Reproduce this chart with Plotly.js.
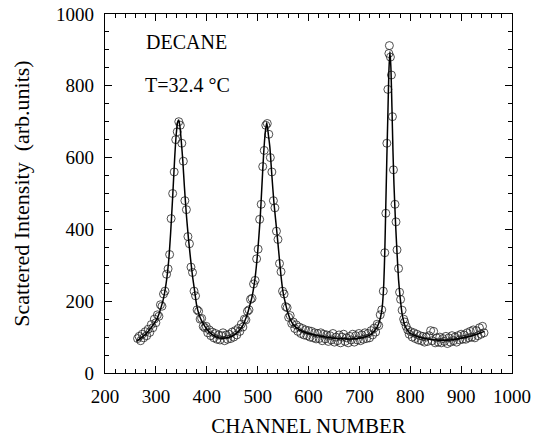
<!DOCTYPE html>
<html>
<head>
<meta charset="utf-8">
<script src="https://cdn.plot.ly/plotly-3.0.1.min.js"></script>
<style>html,body{margin:0;padding:0;background:#fff;}#chart{width:537px;height:439px;}</style>
</head>
<body>
<div id="chart"></div>
<script>
// Measured points (channel, intensity)
const dataX = [
264,267,270,273,276,279,282,285,288,291,
294,297,300,303,306,309,312,315,318,321,
324,327,330,333,336,339,342,345,348,351,
354,357,360,363,366,369,372,375,378,381,
384,387,390,393,396,399,402,405,408,411,
414,417,420,423,426,429,432,435,438,441,
444,447,450,453,456,459,462,465,468,471,
474,477,480,483,486,489,492,495,498,501,
504,507,510,513,516,519,522,525,528,531,
534,537,540,543,546,549,552,555,558,561,
564,567,570,573,576,579,582,585,588,591,
594,597,600,603,606,609,612,615,618,621,
624,627,630,633,636,639,642,645,648,651,
654,657,660,663,666,669,672,675,678,681,
684,687,690,693,696,699,702,705,708,711,
714,717,720,723,726,729,732,735,738,741,
744,747,750,752,754,756,758,759,761,763,
765,767,770,772,774,777,779,781,784,787,
789,792,795,798,801,804,807,810,813,816,
819,822,825,828,831,834,837,840,843,846,
849,852,855,858,861,864,867,870,873,876,
879,882,885,888,891,894,897,900,903,906,
909,912,915,918,921,924,927,930,933,936,
939,942,945];
const dataY = [
96,102,90,108,98,115,104,122,113,135,
126,150,140,162,158,190,186,220,228,275,
290,330,430,500,560,650,672,700,690,640,
590,480,455,380,360,295,280,228,215,176,
172,150,152,130,126,130,112,120,104,114,
98,110,94,106,92,104,112,90,106,94,
108,96,114,100,118,106,124,116,136,128,
150,148,172,176,205,208,248,258,318,345,
428,470,575,620,690,695,665,600,560,480,
460,395,372,305,282,228,220,185,182,155,
160,138,142,124,134,116,128,110,124,106,
120,104,118,100,116,98,112,95,110,96,
112,90,108,95,106,88,104,92,110,86,
100,90,106,84,100,108,88,98,84,102,
92,108,86,104,92,110,90,106,94,112,
96,110,98,118,106,125,114,136,132,162,
176,228,335,445,640,790,890,912,880,830,
714,566,470,421,343,291,225,205,175,150,
142,130,120,108,115,100,112,96,108,92,
104,90,102,86,100,88,104,118,90,116,
84,98,86,100,84,96,88,102,82,98,
86,104,90,100,86,104,92,108,94,106,
94,112,98,116,100,120,98,118,104,126,
108,130,112];

// Fitted curve
const fitX = [262,270,280,290,300,305,310,315,320,325,329,333,337,340,343,345,347,350,353,356,
360,364,368,372,376,380,385,390,395,400,410,420,430,440,450,460,470,480,485,489,
495,500,505,508,512,515,518,521,524,528,532,538,542,546,550,555,560,565,570,580,
590,600,620,640,660,680,700,710,720,728,734,738,742,745,748,750,752,754,756,758,
760,762,764,766,768,771,774,777,780,784,790,795,800,810,820,835,850,870,890,905,
920,935,946];
const fitY = [88,97,108,125,145,160,182,208,248,310,390,490,600,665,700,705,690,645,590,520,
440,375,320,270,230,190,162,145,133,122,108,100,97,98,103,113,130,165,190,212,
265,335,430,510,615,670,698,665,630,550,475,390,330,270,225,192,165,147,135,122,
115,110,104,99,96,95,97,100,105,115,126,138,158,185,250,340,470,600,720,840,
895,850,740,620,525,420,335,260,212,165,130,118,110,104,99,95,92,91,94,98,
103,110,116];

const xTickVals = [200,300,400,500,600,700,800,900,1000];
const yTickVals = [0,200,400,600,800,1000];
const sampleName = "DECANE";
const tempLabel = "T=32.4 °C";
const xTitle = "CHANNEL NUMBER";
const yTitle = "Scattered Intensity  (arb.units)";

const FONT = "Liberation Serif, Times New Roman, serif";

const traces = [
  {x: dataX, y: dataY, type: 'scatter', mode: 'markers',
   marker: {symbol: 'circle-open', size: 8, color: '#222', line: {width: 0.8, color: '#222'}},
   hoverinfo: 'skip', showlegend: false},
  {x: fitX, y: fitY, type: 'scatter', mode: 'lines',
   line: {color: '#000', width: 1.5, shape: 'spline', smoothing: 0.5},
   hoverinfo: 'skip', showlegend: false}
];

const axisCommon = {
  showgrid: false, zeroline: false, showline: true, linecolor: '#000', linewidth: 1.3,
  mirror: 'allticks', ticks: 'inside', ticklen: 7, tickwidth: 1.2, tickcolor: '#000',
  tickfont: {family: FONT, size: 19, color: '#000'}, ticklabelstandoff: 6
};

const layout = {
  width: 537, height: 439,
  margin: {l: 105, r: 25, t: 14, b: 66},
  paper_bgcolor: '#fff', plot_bgcolor: '#fff',
  font: {family: FONT, color: '#000'},
  xaxis: Object.assign({}, axisCommon, {
    range: [200, 1000], tickvals: xTickVals, ticktext: xTickVals.map(String),
    minor: {dtick: 20, tick0: 200, ticks: 'inside', ticklen: 4, tickwidth: 1, tickcolor: '#000'},
    title: {text: xTitle, font: {family: FONT, size: 21, color: '#000'}, standoff: 12}
  }),
  yaxis: Object.assign({}, axisCommon, {
    range: [0, 1000], tickvals: yTickVals, ticktext: yTickVals.map(String),
    minor: {dtick: 50, tick0: 0, ticks: 'inside', ticklen: 4, tickwidth: 1, tickcolor: '#000'},
    title: {text: yTitle, font: {family: FONT, size: 22, color: '#000'}, standoff: 20}
  }),
  annotations: [
    {x: 277, y: 922, xref: 'x', yref: 'y', text: sampleName, showarrow: false,
     xanchor: 'left', yanchor: 'middle', font: {family: FONT, size: 20, color: '#000'}},
    {x: 274, y: 803, xref: 'x', yref: 'y', text: tempLabel, showarrow: false,
     xanchor: 'left', yanchor: 'middle', font: {family: FONT, size: 20, color: '#000'}}
  ]
};

Plotly.newPlot('chart', traces, layout, {displayModeBar: false, staticPlot: true});
</script>
</body>
</html>
